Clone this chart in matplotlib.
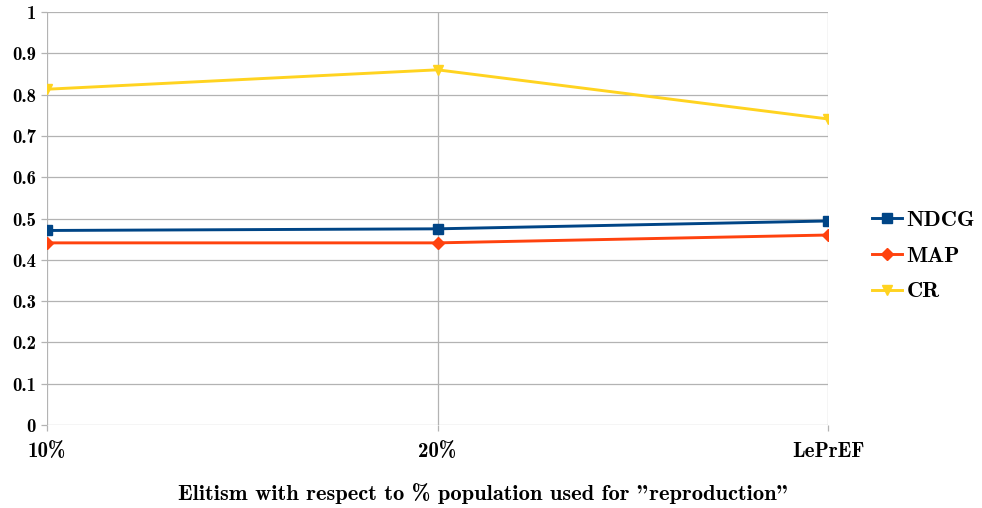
import matplotlib
matplotlib.use("Agg")
import matplotlib.pyplot as plt
import numpy as np

categories = ["10%", "20%", "LePrEF"]
ndcg = [0.471, 0.475, 0.494]
map_ = [0.441, 0.441, 0.460]
cr = [0.813, 0.860, 0.741]
yticks = [0, 0.1, 0.2, 0.3, 0.4, 0.5, 0.6, 0.7, 0.8, 0.9, 1]
ytick_labels = ["0", "0.1", "0.2", "0.3", "0.4", "0.5", "0.6", "0.7", "0.8", "0.9", "1"]

plt.rcParams["font.family"] = ["cmb10", "DejaVu Serif"]
plt.rcParams["axes.unicode_minus"] = False

fig = plt.figure(figsize=(9.82, 5.08), dpi=100)
ax = fig.add_axes([47 / 982, 1 - 425 / 508, (828 - 47) / 982, (425 - 12) / 508])

x = np.arange(len(categories))
grid = "#b3b3b3"

ax.plot(x, ndcg, color="#004586", lw=2.1, marker="s", ms=7.5, label="NDCG", zorder=3)
ax.plot(x, map_, color="#ff420e", lw=2.1, marker="D", ms=6, label="MAP", zorder=3)
ax.plot(x, cr, color="#ffd320", lw=2.1, marker="v", ms=7.5, label="CR", zorder=3)

ax.set_xlim(0, 2)
ax.set_ylim(0, 1)
ax.set_xticks(x)
ax.set_xticklabels(categories, fontsize=15)
ax.set_yticks(yticks)
ax.set_yticklabels(ytick_labels, fontsize=13.5)

for s in ax.spines.values():
    s.set_visible(False)
ax.grid(True, color=grid, lw=0.9)
ax.set_axisbelow(True)
ax.tick_params(axis="both", color=grid, length=4, width=0.9)
ax.tick_params(axis="x", pad=8)
ax.tick_params(axis="y", pad=4)

fig.text(483 / 982, 1 - 494 / 508,
         'Elitism with respect to % population used for "reproduction"',
         fontsize=16.2, ha="center", va="center")

ax.legend(loc="center left", bbox_to_anchor=(1.056, 0.41), frameon=False,
          borderpad=0, borderaxespad=0, fontsize=16.2, handlelength=1.35,
          handletextpad=0.2, labelspacing=0.72)

fig.savefig("out.png", dpi=100)
